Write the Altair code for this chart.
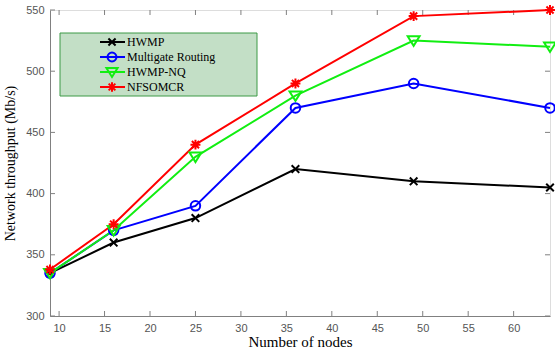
import altair as alt
import pandas as pd

nodes = [9, 16, 25, 36, 49, 64]
series_names = ["HWMP", "Multigate Routing", "HWMP-NQ", "NFSOMCR"]
hwmp = [335, 360, 380, 420, 410, 405]
multigate = [335, 370, 390, 470, 490, 470]
hwmp_nq = [335, 370, 430, 480, 525, 520]
nfsomcr = [338, 375, 440, 490, 545, 550]
x_ticks = [10, 15, 20, 25, 30, 35, 40, 45, 50, 55, 60]
y_ticks = [300, 350, 400, 450, 500, 550]

colors = ["#000000", "#0000ff", "#11ee11", "#ff0000"]
# marker paths (unit space)
m_x = "M-0.8,-0.8L0.8,0.8M0.8,-0.8L-0.8,0.8"
m_circ = "M1,0A1,1,0,1,1,-1,0A1,1,0,1,1,1,0"
m_tri = "M-1.25,-0.9L1.25,-0.9L0,1.1Z"
m_ast = "M-1.05,0L1.05,0M0,-1.05L0,1.05M-0.75,-0.75L0.75,0.75M-0.75,0.75L0.75,-0.75"
markers = [m_x, m_circ, m_tri, m_ast]

rows = []
for name, vals in zip(series_names, [hwmp, multigate, hwmp_nq, nfsomcr]):
    for n, v in zip(nodes, vals):
        rows.append({"nodes": n, "throughput": v, "series": name})
df = pd.DataFrame(rows)
leg_df = pd.DataFrame({"series": series_names})

W, H = 500, 306

xscale = alt.Scale(domain=[9, 64], nice=False, zero=False)
yscale = alt.Scale(domain=[300, 550], nice=False, zero=False)

xaxis = alt.Axis(values=x_ticks, title="Number of nodes", tickSize=0, labelPadding=6,
                 domainColor="#808080", labelColor="#555555", labelFont="Liberation Sans",
                 labelFontSize=11, titleFont="Liberation Serif", titleFontSize=15,
                 titleFontWeight="normal", titleColor="#000000", titlePadding=1, grid=False)
yaxis = alt.Axis(values=y_ticks, title="Network throughput (Mb/s)", tickSize=0, labelPadding=6,
                 domainColor="#808080", labelColor="#555555", labelFont="Liberation Sans",
                 labelFontSize=11, titleFont="Liberation Serif", titleFontSize=14,
                 titleFontWeight="normal", titleColor="#000000", titlePadding=8, grid=False)

color_scale = alt.Scale(domain=series_names, range=colors)
shape_scale = alt.Scale(domain=series_names, range=markers)
color = alt.Color("series:N", scale=color_scale, legend=None)
shape = alt.Shape("series:N", scale=shape_scale, legend=None)

lines = alt.Chart(df).mark_line(strokeWidth=2).encode(
    x=alt.X("nodes:Q", scale=xscale, axis=xaxis),
    y=alt.Y("throughput:Q", scale=yscale, axis=yaxis),
    color=color,
    detail="series:N",
)

points = alt.Chart(df).mark_point(filled=False, strokeWidth=2, size=90, opacity=1).encode(
    x=alt.X("nodes:Q", scale=xscale),
    y=alt.Y("throughput:Q", scale=yscale),
    color=color,
    shape=shape,
)

ticks_df_x = pd.DataFrame({"t": x_ticks})
ticks_df_y = pd.DataFrame({"t": y_ticks})
tick_style = dict(color="#808080", strokeWidth=1)
xt_bottom = alt.Chart(ticks_df_x).mark_rule(**tick_style).encode(
    x=alt.X("t:Q", scale=xscale), y=alt.value(H), y2=alt.value(H - 5))
xt_top = alt.Chart(ticks_df_x).mark_rule(**tick_style).encode(
    x=alt.X("t:Q", scale=xscale), y=alt.value(0), y2=alt.value(5))
yt_left = alt.Chart(ticks_df_y).mark_rule(**tick_style).encode(
    y=alt.Y("t:Q", scale=yscale), x=alt.value(0), x2=alt.value(5))
yt_right = alt.Chart(ticks_df_y).mark_rule(**tick_style).encode(
    y=alt.Y("t:Q", scale=yscale), x=alt.value(W), x2=alt.value(W - 5))

main = alt.layer(xt_bottom, xt_top, yt_left, yt_right, lines, points)

# legend (drawn as marks)
box = alt.Chart(pd.DataFrame({"a": [0]})).mark_rect(
    fill="#c3dfc6", stroke="#3c9a46", strokeWidth=1
).encode(x=alt.value(10), x2=alt.value(207), y=alt.value(23), y2=alt.value(86))

ly = alt.Y("series:N", scale=alt.Scale(domain=series_names, range=[32, 77], type="point", padding=0), axis=None)
leg_line = alt.Chart(leg_df).mark_rule(strokeWidth=2).encode(
    y=ly, x=alt.value(50), x2=alt.value(75), color=color)
leg_pts = alt.Chart(leg_df).mark_point(filled=False, strokeWidth=2, size=80, opacity=1).encode(
    y=ly, x=alt.value(62), color=color, shape=shape)
leg_txt = alt.Chart(leg_df).mark_text(
    align="left", baseline="middle", font="Liberation Serif", fontSize=12, color="#000000"
).encode(y=ly, x=alt.value(77), text="series:N")
legend = alt.layer(box, leg_line, leg_pts, leg_txt)

chart = alt.layer(main, legend).resolve_scale(
    y="independent"
).properties(
    width=W, height=H,
    autosize=alt.AutoSizeParams(type="none"),
    padding={"left": 50, "top": 10, "right": 5, "bottom": 38},
).configure_view(stroke="#808080", strokeWidth=1).configure(background="white")

chart.save("out.html", embed_options={"renderer": "svg", "actions": False})
